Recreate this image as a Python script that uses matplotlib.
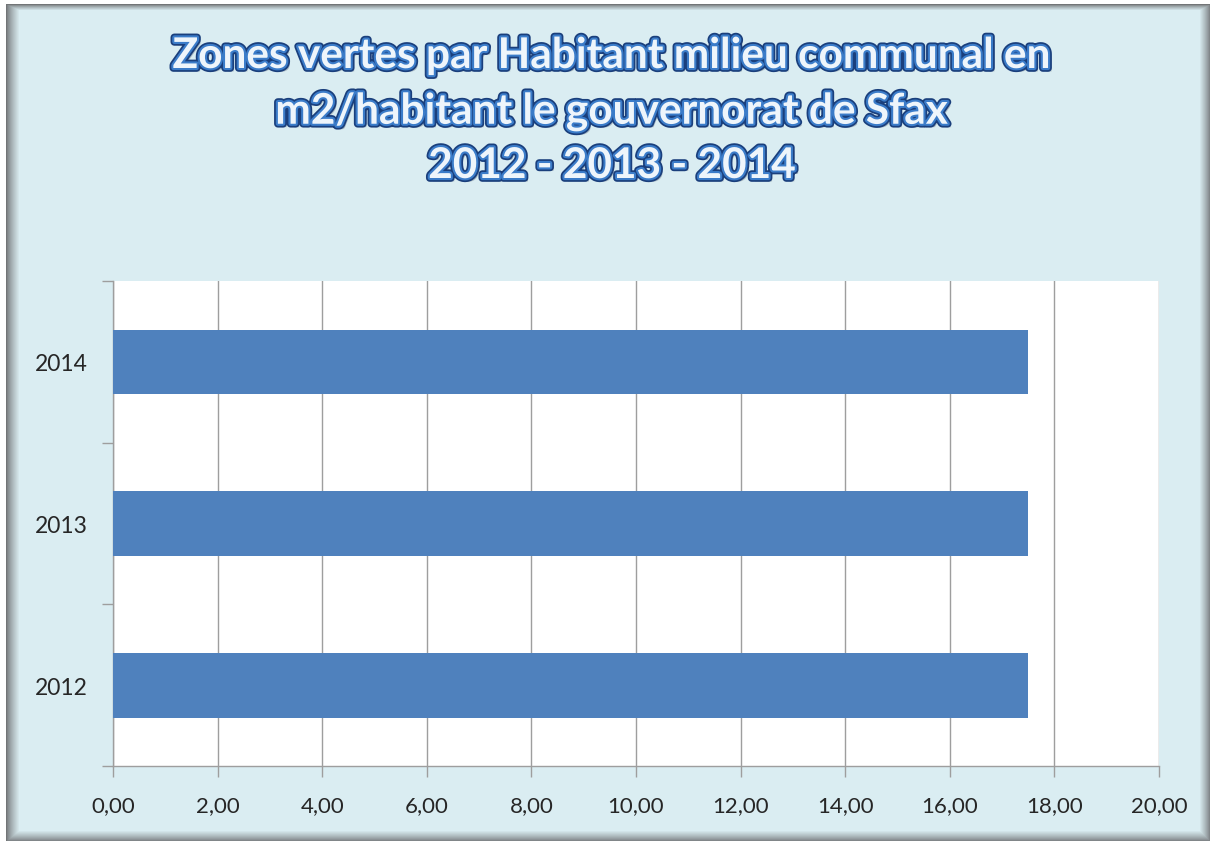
import numpy as np
import matplotlib
matplotlib.use("Agg")
import matplotlib.pyplot as plt
import matplotlib.patheffects as pe
from matplotlib.ticker import FixedLocator, FuncFormatter

# Data
years = ["2012", "2013", "2014"]
zones_vertes = [17.5, 17.5, 17.5]
x_ticks = [0, 2, 4, 6, 8, 10, 12, 14, 16, 18, 20]

title_lines = [
    "Zones vertes par Habitant milieu communal en",
    "m2/habitant le gouvernorat de Sfax",
    "2012 - 2013 - 2014",
]

W, H = 1213, 845
DPI = 100
BG = np.array([0xDA, 0xED, 0xF2]) / 255.0
BAR = "#4F81BD"
GRID = "#9E9E9E"
FONT = "Lato"

fig = plt.figure(figsize=(W / DPI, H / DPI), dpi=DPI)
fig.patch.set_facecolor("white")

# Framed background panel with a soft grey shadow along its edges
yy, xx = np.mgrid[0:H, 0:W].astype(float)
x0, x1, y0, y1 = 6, 1210, 5, 842
inside = (xx >= x0) & (xx < x1) & (yy >= y0) & (yy < y1)
d_left = (xx - x0) / 13.0
d_right = (x1 - xx) / 11.0
d_top = (yy - y0) / 6.0
d_bot = (y1 - yy) / 11.0
d = np.clip(np.minimum.reduce([d_left, d_right, d_top, d_bot]), 0, 1)
shade = np.array([0.45, 0.46, 0.47])
w = (d ** 0.8)[..., None]
img = shade * (1 - w) + BG * w
img[~inside] = 1.0
bg_ax = fig.add_axes([0, 0, 1, 1], zorder=-10)
bg_ax.imshow(img, aspect="auto", interpolation="bilinear")
bg_ax.set_axis_off()

# Title with outlined lettering
title_y = [57, 113, 167]
for line, ty in zip(title_lines, title_y):
    fig.text(
        612 / W, 1 - ty / H, line,
        ha="center", va="center", fontsize=30.5, fontweight="bold",
        family=FONT, color="#EEF5FB",
        path_effects=[
            pe.SimplePatchShadow(offset=(2.5, -2.5), shadow_rgbFace="#6A737C", alpha=0.4),
            pe.Stroke(linewidth=5.5, foreground="#1A3F7C"),
            pe.Stroke(linewidth=3.0, foreground="#3B7CC9"),
            pe.Normal(),
        ],
    )

# Plot area
left, right = 113 / W, 1159 / W
bottom, top = 1 - 767 / H, 1 - 282 / H
ax = fig.add_axes([left, bottom, right - left, top - bottom])
ax.set_facecolor("white")

pos = np.arange(len(years))
ax.barh(pos, zones_vertes, height=0.4, color=BAR, zorder=3)

ax.set_xlim(0, 20)
ax.set_ylim(-0.5, len(years) - 0.5)

ax.xaxis.set_major_locator(FixedLocator(x_ticks))
ax.xaxis.set_major_formatter(FuncFormatter(lambda v, p: f"{v:.2f}".replace(".", ",")))
ax.grid(axis="x", color=GRID, linewidth=1.0, zorder=1)
ax.set_axisbelow(True)

# Category labels centred, tick marks on category boundaries
ax.yaxis.set_major_locator(FixedLocator(np.arange(-0.5, len(years), 1.0)))
ax.yaxis.set_major_formatter(FuncFormatter(lambda v, p: ""))
ax.yaxis.set_minor_locator(FixedLocator(pos))
ax.set_yticklabels(years, minor=True)
ax.tick_params(axis="y", which="major", length=8, width=1, color=GRID, direction="out")
ax.tick_params(axis="y", which="minor", length=0, pad=18, labelsize=16.5, labelcolor="#262626")
ax.tick_params(axis="x", which="major", length=8, width=1, color=GRID, direction="out",
               pad=13, labelsize=16, labelcolor="#262626")
for lab in ax.get_xticklabels() + ax.get_yticklabels(minor=True):
    lab.set_family(FONT)

for s in ("top", "right"):
    ax.spines[s].set_visible(False)
for s in ("left", "bottom"):
    ax.spines[s].set_color(GRID)
    ax.spines[s].set_linewidth(1.0)

fig.savefig("out.png", dpi=DPI)
